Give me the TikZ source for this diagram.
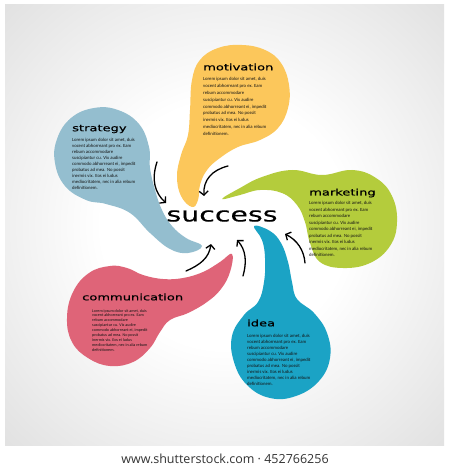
\documentclass[tikz,border=0pt]{standalone}
\usepackage{fontspec}
\setmainfont{Carlito}
\newfontfamily\titlefont[FakeStretch=1.45,FakeBold=0.6]{DejaVu Sans}
\newfontfamily\successfont[FakeStretch=1.42,FakeBold=0.3]{DejaVu Sans}
\newfontfamily\footfont{Open Sans}
\usetikzlibrary{arrows.meta}

\definecolor{motivationcol}{HTML}{FCC75B}
\definecolor{strategycol}{HTML}{94BECF}
\definecolor{marketingcol}{HTML}{B4CC3C}
\definecolor{communicationcol}{HTML}{DF6478}
\definecolor{ideacol}{HTML}{1BA3C5}
\definecolor{loremcol}{HTML}{141414}

\pgfdeclareradialshading{panel}{\pgfpoint{0bp}{0bp}}{color(0bp)=(white); color(14bp)=(white); color(38bp)=(black!13); color(50bp)=(black!17)}

\newcommand\lorem{Lorem ipsum dolor sit amet, duis\\vocent abhorreant pro ex. Eam\\rebum accommodare\\suscipiantur cu. Vix audire\\commodo abhorreant ei, impedit\\probatus ad mea. No possit\\inermis vix. Eos ei ludus\\mediocritatem, nec in alia rebum\\definitionem.}

\begin{document}
\begin{tikzpicture}[
  x=1pt, y=-1pt,
  petal/.style={fill=#1, draw=none},
  title/.style={font=\titlefont\fontsize{9}{10}\selectfont, anchor=west, inner sep=0pt},
  lorem/.style={font=\fontsize{4.7}{#1}\selectfont, text=loremcol, align=left, anchor=north west, inner sep=0pt},
  arr/.style={line width=1.3pt, line cap=round, -{Straight Barb[length=4pt,width=9pt]}}
]
\useasboundingbox (0,0) rectangle (450,470);
\fill[white] (0,0) rectangle (450,470);
\shade[shading=panel] (5,5) rectangle (444,445);

\fill[petal=motivationcol] plot[smooth cycle, tension=0.7] coordinates {
  (192,207) (181,196) (177,176) (181,155) (188,135) (190,110) (192,80) (200,60) (218,48)
  (242,45) (265,50) (281,63) (289,85) (288,108) (278,128) (260,140) (238,147) (220,158)
  (207,170) (200,185) (198,200)};
\fill[petal=strategycol] plot[smooth cycle, tension=0.7] coordinates {
  (202,246) (186,238) (172,226) (162,210) (155,190) (150,168) (149,147) (139,124) (118,110)
  (94,108) (71,118) (57,139) (55,163) (65,186) (86,200) (106,204) (130,213) (150,233)
  (170,249) (188,253)};
\fill[petal=marketingcol] plot[smooth cycle, tension=0.7] coordinates {
  (222,199) (240,188) (262,177) (292,170) (322,175) (352,170) (376,178) (392,196) (397,222)
  (390,246) (370,263) (343,268) (320,262) (310,243) (305,222) (297,205) (282,193) (260,190)
  (240,195)};
\fill[petal=communicationcol] plot[smooth cycle, tension=0.7] coordinates {
  (232,254) (220,262) (203,272) (183,278) (163,279) (143,275) (127,268) (110,266) (89,273)
  (73,292) (67,318) (72,342) (88,358) (110,366) (133,362) (150,348) (160,332) (170,320)
  (188,313) (207,302) (221,289) (230,272)};
\fill[petal=ideacol] plot[smooth cycle, tension=0.7] coordinates {
  (254,226) (270,231) (281,243) (288,262) (292,282) (297,299) (314,313) (327,333) (330,358)
  (319,381) (296,396) (270,398) (247,385) (234,362) (232,336) (244,315) (258,302) (264,282)
  (265,258) (262,240)};

\coordinate (a1s) at (157,162);
\coordinate (a1e) at (166,203);
\coordinate (a2s) at (228,166);
\coordinate (a2e) at (204,196);
\coordinate (a3s) at (186,271);
\coordinate (a3e) at (211,244);
\coordinate (a4s) at (243,276);
\coordinate (a4e) at (237,240);
\coordinate (a5s) at (305,263);
\coordinate (a5e) at (285,234);
\draw[arr] (a1s) .. controls (151,180) and (155,193) .. (a1e);
\draw[arr] (a2s) .. controls (212,170) and (203,180) .. (a2e);
\draw[arr] (a3s) .. controls (200,265) and (209,258) .. (a3e);
\draw[arr] (a4s) .. controls (247,262) and (246,250) .. (a4e);
\draw[arr] (a5s) .. controls (304,250) and (297,240) .. (a5e);

\node[font=\successfont\fontsize{20}{22}\selectfont, inner sep=0pt] (success) at (222,216) {success};

\node[title] (motivation) at (203,67) {motivation};
\node[lorem=6.9] (motivation-text) at (203,77) {\lorem};
\node[title] (strategy) at (72,129) {strategy};
\node[lorem=5.9] (strategy-text) at (72,138.5) {\lorem};
\node[title] (marketing) at (309,193) {marketing};
\node[lorem=6.5] (marketing-text) at (309,201.5) {\lorem};
\node[title] (communication) at (82,297) {communication};
\node[lorem=4.9, font=\fontsize{4.1}{4.9}\selectfont] (communication-text) at (92,309) {\lorem};
\node[title] (idea) at (247,323) {idea};
\node[lorem=6] (idea-text) at (247,334) {\lorem};

\node[font=\footfont\fontsize{12.5}{14}\selectfont, text=black!80] (credit) at (225,459) {www.shutterstock.com · 452766256};
\end{tikzpicture}
\end{document}
